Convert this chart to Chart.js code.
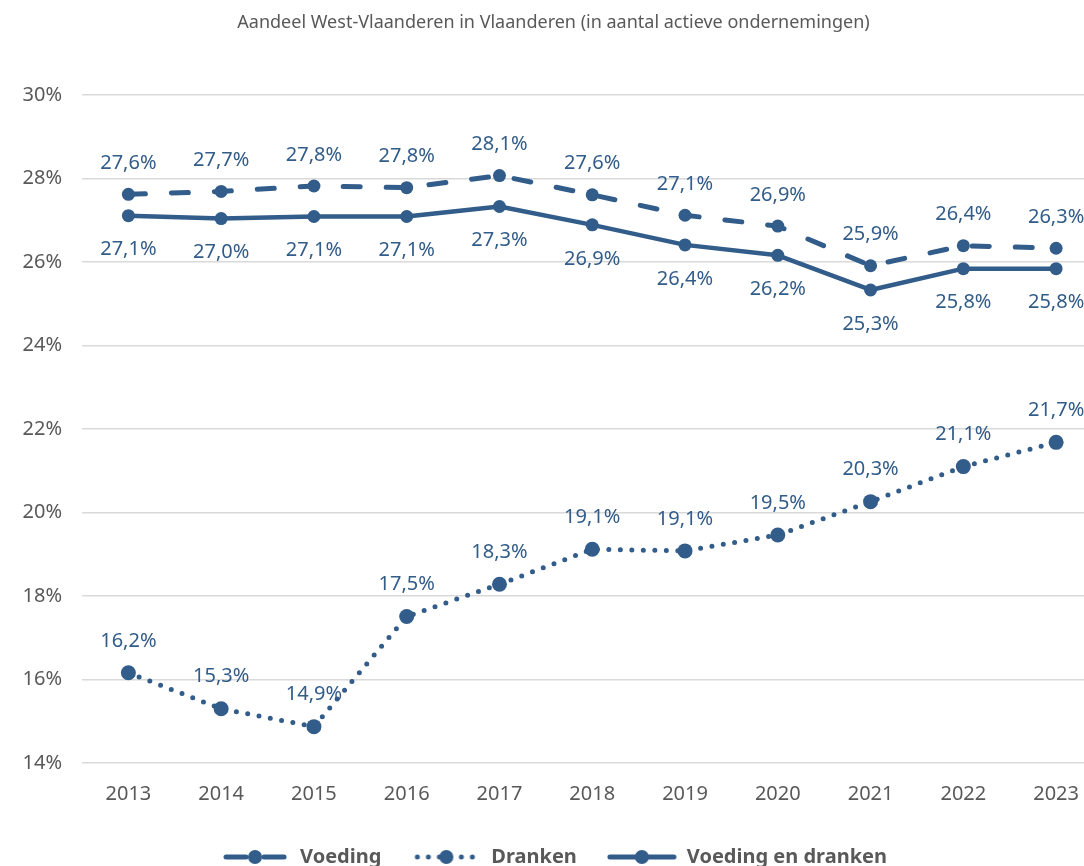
<!DOCTYPE html>
<html>
<head>
<meta charset="utf-8">
<script src="https://cdn.jsdelivr.net/npm/chart.js@4.4.1/dist/chart.umd.min.js"></script>
<style>
  html, body { margin: 0; padding: 0; background: #ffffff; overflow: hidden; }
  #wrap { width: 1110px; height: 877px; }
</style>
</head>
<body>
<div id="wrap"><canvas id="c" width="1110" height="877"></canvas></div>
<script>
const titleText = 'Aandeel West-Vlaanderen in Vlaanderen (in aantal actieve ondernemingen)';
const years = ['2013', '2014', '2015', '2016', '2017', '2018', '2019', '2020', '2021', '2022', '2023'];
const voeding = [27.62, 27.69, 27.82, 27.78, 28.07, 27.61, 27.12, 26.86, 25.91, 26.39, 26.33];
const dranken = [16.16, 15.30, 14.87, 17.51, 18.28, 19.12, 19.08, 19.46, 20.26, 21.10, 21.68];
const voedingEnDranken = [27.11, 27.04, 27.09, 27.09, 27.33, 26.89, 26.41, 26.16, 25.33, 25.84, 25.84];
const seriesNames = ['Voeding', 'Dranken', 'Voeding en dranken'];
const yTicks = [14, 16, 18, 20, 22, 24, 26, 28, 30];

const BLUE = '#325C89';
const GREY = '#595959';
const FONT = "'Noto Sans', 'Open Sans', sans-serif";

function legendImage(kind) {
  const c = document.createElement('canvas');
  c.width = 70; c.height = 18;
  const g = c.getContext('2d');
  g.strokeStyle = BLUE; g.fillStyle = BLUE;
  g.lineWidth = 5;
  g.beginPath();
  if (kind === 'dash') { g.lineCap = 'round'; g.setLineDash([20, 18]); g.lineDashOffset = -3; }
  else if (kind === 'dot') { g.lineCap = 'round'; g.setLineDash([0, 11]); g.lineDashOffset = -3; }
  else { g.lineCap = 'round'; }
  g.moveTo(3, 9); g.lineTo(67, 9);
  g.stroke();
  g.setLineDash([]);
  g.beginPath(); g.arc(35, 9, 7, 0, Math.PI * 2); g.fill();
  return c;
}

const labelOffsets = [-31, -32, 34];

const dataLabelPlugin = {
  id: 'dataLabels',
  afterDatasetsDraw(chart) {
    const ctx = chart.ctx;
    ctx.save();
    ctx.font = '20px ' + FONT;
    ctx.fillStyle = BLUE;
    ctx.textAlign = 'center';
    ctx.textBaseline = 'middle';
    chart.data.datasets.forEach((ds, di) => {
      const meta = chart.getDatasetMeta(di);
      meta.data.forEach((pt, i) => {
        const txt = ds.data[i].toFixed(1).replace('.', ',') + '%';
        ctx.fillText(txt, pt.x, pt.y + labelOffsets[di]);
      });
    });
    ctx.restore();
  }
};

const legendImgs = [legendImage('dash'), legendImage('dot'), legendImage('solid')];

new Chart(document.getElementById('c'), {
  type: 'line',
  data: {
    labels: years,
    datasets: [
      { label: seriesNames[0], data: voeding, borderColor: BLUE, backgroundColor: BLUE,
        borderWidth: 5, borderDash: [17, 26], borderCapStyle: 'round',
        pointRadius: 6.5, pointBackgroundColor: BLUE, pointBorderWidth: 0, tension: 0 },
      { label: seriesNames[1], data: dranken, borderColor: BLUE, backgroundColor: BLUE,
        borderWidth: 5, borderDash: [0, 11.5], borderCapStyle: 'round',
        pointRadius: 7.5, pointBackgroundColor: BLUE, pointBorderWidth: 0, tension: 0 },
      { label: seriesNames[2], data: voedingEnDranken, borderColor: BLUE, backgroundColor: BLUE,
        borderWidth: 4.5, borderCapStyle: 'round', borderJoinStyle: 'round',
        pointRadius: 6.5, pointBackgroundColor: BLUE, pointBorderWidth: 0, tension: 0 }
    ]
  },
  options: {
    responsive: false,
    animation: false,
    devicePixelRatio: 1,
    layout: { padding: { left: 0, right: 3, top: 0, bottom: 0 } },
    plugins: {
      title: {
        display: true, text: titleText, color: GREY,
        font: { family: FONT, size: 18, weight: 'normal' },
        padding: { top: 12, bottom: 61.4 }
      },
      legend: {
        position: 'bottom',
        labels: {
          usePointStyle: true,
          pointStyleWidth: 70,
          padding: 30,
          color: GREY,
          font: { family: FONT, size: 20, weight: 'bold' },
          generateLabels(chart) {
            return chart.data.datasets.map((ds, i) => ({
              text: ds.label, pointStyle: legendImgs[i], fillStyle: BLUE,
              strokeStyle: BLUE, lineWidth: 0, hidden: false, datasetIndex: i, fontColor: GREY
            }));
          }
        }
      },
      tooltip: { enabled: false }
    },
    scales: {
      x: {
        offset: true,
        grid: { display: false, drawTicks: false },
        border: { display: false },
        ticks: { color: GREY, font: { family: FONT, size: 20 }, padding: 19 },
        afterFit(s) { s.height = 54; }
      },
      y: {
        min: 14, max: 30,
        afterBuildTicks(s) { s.ticks = yTicks.map(v => ({ value: v })); },
        grid: { color: '#D9D9D9', lineWidth: 1.5, drawTicks: false },
        border: { display: false },
        ticks: { color: GREY, font: { family: FONT, size: 20 }, padding: 20,
                 callback: v => v + '%' },
        afterFit(s) { s.width = 82; }
      }
    }
  },
  plugins: [dataLabelPlugin]
});
</script>
</body>
</html>
